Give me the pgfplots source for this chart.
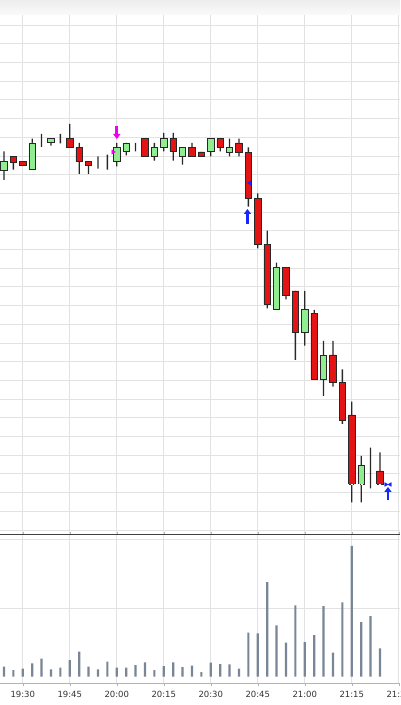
\documentclass[border=0pt]{standalone}
\usepackage{pgfplots}
\pgfplotsset{compat=1.18}
\usepackage{pgfplotstable}
\usepackage{fontspec}
\setmainfont{DejaVu Sans}
\usetikzlibrary{arrows.meta}
\definecolor{upc}{RGB}{144,238,144}
\definecolor{dnc}{RGB}{228,20,20}
\definecolor{wick}{RGB}{40,40,40}
\definecolor{volc}{RGB}{120,134,150}
\definecolor{gridc}{RGB}{226,226,226}
\definecolor{mkmag}{RGB}{240,0,240}
\definecolor{mkblue}{RGB}{20,40,255}

\pgfplotstableread{
i o h l c
0 369.7 388.7 360.0 378.7
1 383.7 383.7 370.3 378.0
2 378.7 378.7 374.7 374.7
3 370.3 401.3 370.3 397.0
4 400.0 406.0 393.0 400.0
5 397.7 401.3 394.3 401.3
6 401.3 406.0 396.7 401.3
7 401.3 416.0 392.7 392.7
8 392.7 397.0 366.0 378.7
9 378.7 378.7 366.0 374.7
10 378.7 383.7 371.3 378.7
11 379.7 385.3 370.3 379.7
12 378.7 397.0 373.7 392.7
13 388.7 397.0 384.7 397.0
14 397.0 397.0 388.7 397.0
15 401.3 401.3 383.7 383.7
16 383.7 397.0 379.3 392.7
17 392.7 407.0 388.7 401.3
18 401.3 407.0 379.3 388.7
19 383.7 392.7 375.3 392.7
20 392.7 397.0 383.7 383.7
21 388.0 388.0 383.7 383.7
22 388.7 401.3 383.7 401.3
23 401.3 401.3 388.7 392.7
24 388.0 401.3 383.7 392.7
25 397.0 401.3 383.7 388.0
26 387.7 392.7 333.3 341.7
27 341.7 346.7 291.7 295.7
28 295.7 309.3 231.7 235.7
29 230.7 277.3 230.7 272.3
30 272.3 272.3 240.7 245.0
31 249.0 249.0 180.0 207.3
32 207.3 249.0 194.3 230.7
33 226.7 230.0 161.0 161.0
34 161.0 199.0 144.0 184.3
35 185.0 199.0 153.3 157.3
36 157.3 170.7 116.0 120.0
37 125.0 138.3 37.7 55.7
38 55.7 84.0 37.7 74.3
39 74.3 92.3 51.7 74.3
40 69.0 87.7 55.7 55.7
}\candles

\pgfplotstableread{
i v
0 10
1 6.7
2 8
3 13.3
4 18
5 7.3
6 9
7 16.7
8 25
9 10
10 7.3
11 15
12 9
13 9
14 11.7
15 14.3
16 6.7
17 10.7
18 14.3
19 9.7
20 11
21 4.7
22 14
23 12.7
24 12.3
25 8
26 44
27 43.3
28 94.7
29 51.3
30 34
31 71.3
32 34.7
33 41.7
34 70.7
35 24
36 74.3
37 130.7
38 54.7
39 60.7
40 28.3
}\volumes

\pgfplotsset{panel/.style={scale only axis, width=400pt, xmin=-0.4255, xmax=42.128, anchor=south west}}

\begin{document}
\begin{tikzpicture}[x=1pt,y=1pt]
\useasboundingbox (0,0) rectangle (400,705);
\fill[white] (0,0) rectangle (400,705);
\shade[top color=gray!14, bottom color=gray!4] (0,690) rectangle (400,705);

% price panel: grid and wicks (stacked thin bars from low to high)
\begin{axis}[panel, at={(0,171)}, height=519pt, ymin=6, ymax=525,
  xtick={2,7,...,42}, ytick={10.1,28.8,...,516}, xticklabels={}, yticklabels={},
  grid=major, grid style={gridc, line width=0.6pt}, major tick length=0pt,
  axis line style={draw=none}, ybar stacked, bar width=1.3pt]
\addplot[draw=none, fill=none] table[x=i, y=l] {\candles};
\addplot[draw=none, fill=wick] table[x=i, y expr=\thisrow{h}-\thisrow{l}] {\candles};
\end{axis}

% price panel: bodies
\begin{axis}[panel, at={(0,171)}, height=519pt, ymin=6, ymax=525, hide axis,
  ybar stacked, bar width=6.5pt]
\addplot[draw=none, fill=none] table[x=i, y expr={min(\thisrow{o},\thisrow{c})}] {\candles};
\addplot[draw=wick, fill=upc, line width=0.7pt] table[x=i, y expr={max(\thisrow{c}-\thisrow{o},0)}] {\candles};
\addplot[draw=wick, fill=dnc, line width=0.7pt] table[x=i, y expr={max(\thisrow{o}-\thisrow{c},0)}] {\candles};
\end{axis}

% price panel: overlays
\begin{axis}[panel, at={(0,171)}, height=519pt, ymin=6, ymax=525, hide axis, clip=false]
\addplot[white, line width=0.8pt, dash pattern=on 2pt off 1.5pt] coordinates {(36.5,55.7) (40.1,55.7)};
\addplot[mkmag, line width=2.8pt, -{Triangle[width=7pt,length=5pt]}] coordinates {(12,414) (12,401)};
\addplot[only marks, mark=triangle*, mark size=2.4pt, mkmag, mark options={rotate=-90}] coordinates {(11.6,388)};
\addplot[only marks, mark=triangle*, mark size=2.4pt, mkblue, mark options={rotate=90}] coordinates {(26.15,357)};
\addplot[mkblue, line width=2.8pt, -{Triangle[width=7pt,length=5pt]}] coordinates {(25.9,316) (25.9,331)};
\addplot[mkblue, line width=2.8pt, -{Triangle[width=7pt,length=5pt]}] coordinates {(40.85,40) (40.85,53)};
\addplot[only marks, mark=triangle*, mark size=2.2pt, mkblue, mark options={rotate=-90}] coordinates {(40.62,55.5)};
\addplot[only marks, mark=triangle*, mark size=2.2pt, mkblue, mark options={rotate=90}] coordinates {(41.08,55.5)};
\end{axis}

% volume panel
\begin{axis}[panel, at={(0,22)}, height=148.3pt, ymin=-6.3, ymax=142,
  ybar, bar width=2.2pt, bar shift=0pt,
  xtick={2,7,...,42},
  xticklabels={19:30,19:45,20:00,20:15,20:30,20:45,21:00,21:15,21:30},
  ytick={68.7,137.4}, yticklabels={},
  xmajorgrids, ymajorgrids, grid style={gridc, line width=0.6pt},
  axis line style={draw=none}, ytick style={draw=none},
  xtick style={draw=gray!60}, major tick length=3pt, tick align=outside,
  x tick label style={font=\fontsize{8.5}{10}\selectfont, text=black!80, yshift=-1.5pt}]
\addplot[fill=volc, draw=none] table[x=i, y=v] {\volumes};
\draw[black!75, line width=0.8pt] (rel axis cs:0,1) -- (rel axis cs:1,1);
\draw[gray!60, line width=0.8pt] (rel axis cs:0,0) -- (rel axis cs:1,0);
\end{axis}
\end{tikzpicture}
\end{document}
